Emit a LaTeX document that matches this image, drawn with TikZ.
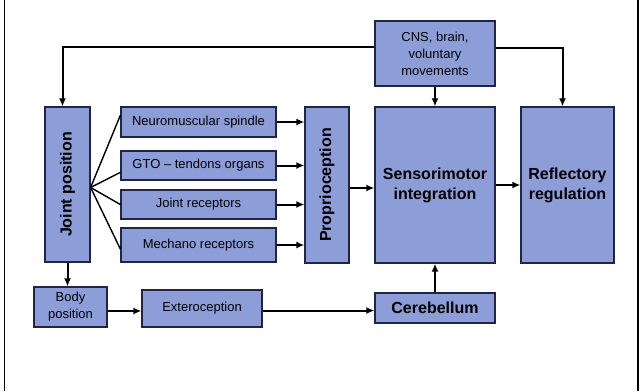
\documentclass[tikz,border=0pt]{standalone}
\usepackage{fontspec}
\setmainfont{Liberation Sans}
\usetikzlibrary{arrows.meta}
\definecolor{boxfill}{RGB}{140,157,216}
\definecolor{boxline}{RGB}{32,36,72}
\tikzset{
  blk/.style={draw=boxline, fill=boxfill, line width=1.2pt, inner sep=0pt,
    align=center, font=\fontsize{13}{17}\selectfont},
  bigblk/.style={blk, font=\fontsize{16}{20}\selectfont\bfseries},
  arr/.style={line width=2pt, -{Latex[length=8pt,width=7pt]}},
  fan/.style={line width=1.4pt}
}
\begin{document}
\begin{tikzpicture}[x=1pt,y=-1pt]
  \useasboundingbox (0,0) rectangle (644,391);
  \draw[line width=1.8pt] (4.5,0) -- (4.5,391) (638,0) -- (638,391);
      \node[blk, minimum width=120pt, minimum height=65pt] (cns) at (435,53.5)
        {CNS, brain,\\voluntary\\movements};
      \node[bigblk, minimum width=45pt, minimum height=155pt] (joint) at (67.5,184.5)
        {\rotatebox{90}{Joint position}};
      \node[blk, minimum width=155pt, minimum height=30pt] (spindle) at (198.5,122)
        {Neuromuscular spindle};
      \node[blk, minimum width=155pt, minimum height=29pt] (gto) at (198.5,165.5)
        {GTO -- tendons organs};
      \node[blk, minimum width=155pt, minimum height=29pt] (jrec) at (198.5,204.5)
        {Joint receptors};
      \node[blk, minimum width=155pt, minimum height=34pt] (mech) at (198.5,245)
        {Mechano receptors};
      \node[bigblk, minimum width=44pt, minimum height=156pt] (prop) at (327,185)
        {\rotatebox{90}{Proprioception}};
      \node[bigblk, minimum width=120pt, minimum height=156pt] (senso) at (435,185)
        {Sensorimotor\\integration};
      \node[bigblk, minimum width=93pt, minimum height=156pt] (refl) at (567.5,185)
        {Reflectory\\regulation};
      \node[blk, minimum width=73pt, minimum height=40pt] (body) at (70.5,307)
        {Body\\position};
      \node[blk, minimum width=120pt, minimum height=37pt] (extero) at (202,308.5)
        {Exteroception};
      \node[bigblk, minimum width=120pt, minimum height=30pt] (cereb) at (435,308)
        {Cerebellum};
      \coordinate (hub) at ([yshift=-3pt]joint.east);
      \begin{scope}[arr]
        \draw ([yshift=7pt]cns.west) -| ([xshift=-5pt]joint.north);
        \draw ([yshift=6pt]cns.east) -| ([xshift=-5pt]refl.north);
        \draw (cns.south) -- (senso.north);
        \draw (joint.south) -- (joint.south |- body.north);
        \draw (spindle.east) -- (spindle.east -| prop.west);
        \draw (gto.east) -- (gto.east -| prop.west);
        \draw (jrec.east) -- (jrec.east -| prop.west);
        \draw (mech.east) -- (mech.east -| prop.west);
        \draw ([yshift=-3pt]prop.east) -- ([yshift=-3pt]senso.west);
        \draw (senso.east) -- (refl.west);
        \draw ([yshift=-4pt]body.east) -- ([yshift=-4pt]body.east -| extero.west);
        \draw ([yshift=-2pt]extero.east) -- ([yshift=-2pt]extero.east -| cereb.west);
        \draw (cereb.north) -- (senso.south);
      \end{scope}
      \begin{scope}[fan]
        \draw (hub) -- (spindle.175);
        \draw (hub) -- (gto.185);
        \draw (hub) -- (jrec.west);
        \draw (hub) -- (mech.183);
      \end{scope}
\end{tikzpicture}
\end{document}
